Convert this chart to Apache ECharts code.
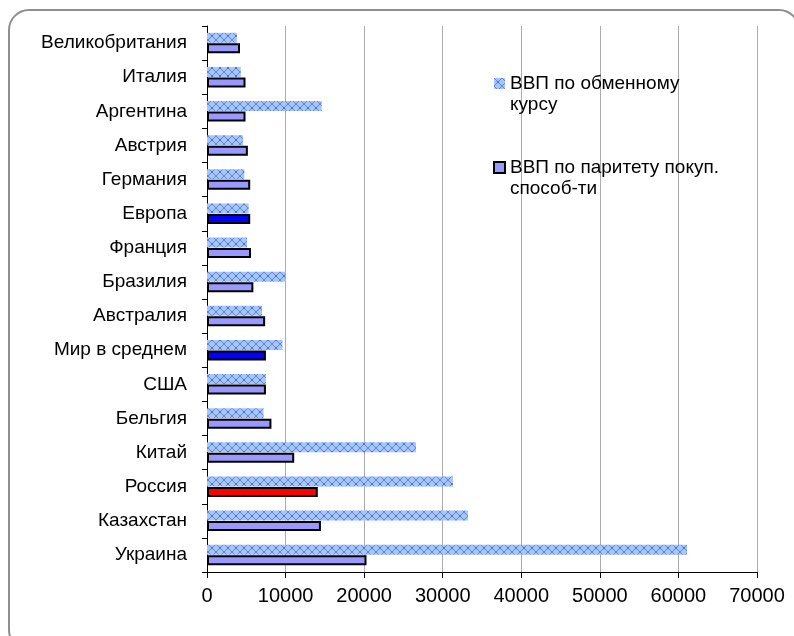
<!DOCTYPE html>
<html>
<head>
<meta charset="utf-8">
<script src="https://cdn.jsdelivr.net/npm/echarts@6/dist/echarts.min.js"></script>
<style>
  html, body { margin: 0; padding: 0; background: #fff; }
  #chart { width: 794px; height: 636px; }
</style>
</head>
<body>
<div id="chart"></div>
<script>
// Countries, listed from the bottom of the axis upwards
const countries = ['Украина', 'Казахстан', 'Россия', 'Китай', 'Бельгия', 'США', 'Мир в среднем',
  'Австралия', 'Бразилия', 'Франция', 'Европа', 'Германия', 'Австрия', 'Аргентина', 'Италия', 'Великобритания'];

// GDP at market exchange rate
const gdpExchange = [61100, 33200, 31300, 26600, 7200, 7500, 9600, 7000, 10000, 5100, 5300, 4750, 4600, 14600, 4300, 3800];

// GDP at purchasing power parity
const gdpPPP = [20300, 14500, 14100, 11100, 8200, 7500, 7500, 7400, 5900, 5600, 5500, 5500, 5200, 4900, 4900, 4200];

// Highlighted rows of the PPP series
const highlightColors = { 'Россия': '#FF0000', 'Мир в среднем': '#0000FF', 'Европа': '#0000FF' };

const xTicks = [0, 10000, 20000, 30000, 40000, 50000, 60000, 70000];

const seriesNames = ['ВВП по обменному курсу', 'ВВП по паритету покуп. способ-ти'];
// Legend wording, broken into two lines (leading blank line keeps the icon beside the first line)
const legendText = {
  'ВВП по обменному курсу': '\nВВП по обменному\nкурсу',
  'ВВП по паритету покуп. способ-ти': '\nВВП по паритету покуп.\nспособ-ти'
};

// Light blue fill with a small lattice for the exchange-rate bars
function makeLattice() {
  const c = document.createElement('canvas');
  c.width = 8; c.height = 8;
  const g = c.getContext('2d');
  g.fillStyle = '#9CC9FF';
  g.fillRect(0, 0, 8, 8);
  g.fillStyle = '#7C7CC4';
  const pts = [[0,0],[1,1],[2,2],[3,3],[4,4],[5,5],[6,6],[7,7],[7,0],[6,1],[5,2],[4,3],[3,4],[2,5],[1,6],[0,7]];
  pts.forEach(p => g.fillRect(p[0], p[1], 1, 1));
  g.fillStyle = '#6A6AB4';
  g.fillRect(3, 3, 2, 2);
  return c;
}
const lattice = { image: makeLattice(), repeat: 'repeat' };

const chart = echarts.init(document.getElementById('chart'), null, { renderer: 'canvas' });

const FONT = '"Liberation Sans", Arial, sans-serif';

chart.setOption({
  animation: false,
  backgroundColor: '#ffffff',
  textStyle: { fontFamily: FONT },
  graphic: [{
    type: 'rect',
    shape: { x: 9, y: 10, width: 790, height: 640, r: 20 },
    style: { fill: 'none', stroke: '#8f8f8f', lineWidth: 2 },
    silent: true,
    z: -10
  }],
  grid: { left: 207, right: 37, top: 26, bottom: 64, containLabel: false },
  legend: {
    orient: 'vertical',
    left: 493,
    top: 52,
    padding: 0,
    icon: 'rect',
    itemWidth: 11,
    itemHeight: 11,
    itemGap: 21,
    data: seriesNames,
    formatter: name => legendText[name],
    textStyle: {
      fontFamily: FONT,
      fontSize: 19,
      color: '#000',
      lineHeight: 21
    }
  },
  xAxis: {
    type: 'value',
    min: xTicks[0],
    max: xTicks[xTicks.length - 1],
    interval: 10000,
    axisLine: { show: true, lineStyle: { color: '#000', width: 1 } },
    axisTick: { show: true, length: 6, lineStyle: { color: '#000' } },
    axisLabel: { fontSize: 20, color: '#000', margin: 14, fontFamily: FONT, formatter: v => String(v) },
    splitLine: { show: true, lineStyle: { color: '#ababab', width: 1 } }
  },
  yAxis: {
    type: 'category',
    data: countries,
    axisLine: { show: true, lineStyle: { color: '#000', width: 1 } },
    axisTick: { show: true, length: 5, lineStyle: { color: '#000' } },
    axisLabel: { fontSize: 19, color: '#000', margin: 20, fontFamily: FONT }
  },
  series: [
    {
      name: seriesNames[0],
      type: 'bar',
      data: gdpExchange,
      barWidth: 10,
      barGap: '5%',
      itemStyle: { color: lattice },
      z: 2
    },
    {
      name: seriesNames[1],
      type: 'bar',
      data: gdpPPP.map((v, i) => highlightColors[countries[i]]
        ? { value: v, itemStyle: { color: highlightColors[countries[i]] } }
        : v),
      barWidth: 10,
      barGap: '5%',
      itemStyle: { color: '#9999FF', borderColor: '#000', borderWidth: 2 },
      z: 3
    }
  ]
});
</script>
</body>
</html>
